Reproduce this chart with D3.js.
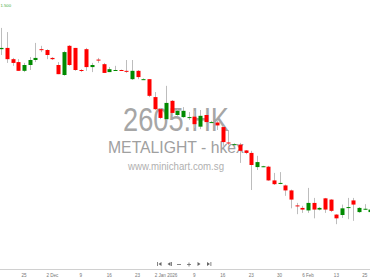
<!DOCTYPE html>
<html>
<head>
<meta charset="utf-8">
<script src="https://cdn.jsdelivr.net/npm/d3@7"></script>
<style>
  body { margin: 0; background: #fff; }
  svg { display: block; font-family: "Liberation Sans", Arial, sans-serif; }
</style>
</head>
<body>
<div id="chart"></div>
<script>
// trading days shown (HK), 19 Nov 2025 .. 26 Feb 2026
const dates = [
  '2025-11-19','2025-11-20','2025-11-21','2025-11-24','2025-11-25','2025-11-26','2025-11-27','2025-11-28',
  '2025-12-01','2025-12-02','2025-12-03','2025-12-04','2025-12-05','2025-12-08','2025-12-09','2025-12-10',
  '2025-12-11','2025-12-12','2025-12-15','2025-12-16','2025-12-17','2025-12-18','2025-12-19','2025-12-22',
  '2025-12-23','2025-12-24','2025-12-29','2025-12-30','2025-12-31','2026-01-02','2026-01-05','2026-01-06',
  '2026-01-07','2026-01-08','2026-01-09','2026-01-12','2026-01-13','2026-01-14','2026-01-15','2026-01-16',
  '2026-01-19','2026-01-20','2026-01-21','2026-01-22','2026-01-23','2026-01-26','2026-01-27','2026-01-28',
  '2026-01-29','2026-01-30','2026-02-02','2026-02-03','2026-02-04','2026-02-05','2026-02-06','2026-02-09',
  '2026-02-10','2026-02-11','2026-02-12','2026-02-13','2026-02-16','2026-02-20','2026-02-23','2026-02-24',
  '2026-02-25','2026-02-26'
];

const open = [
  1.394, 1.397, 1.370, 1.363, 1.342, 1.356, 1.368, 1.394, 1.392, 1.373, 1.356, 1.332, 1.402, 1.397, 1.344, 1.394,
  1.351, 1.369, 1.358, 1.339, 1.343, 1.344, 1.342, 1.322, 1.342, 1.321, 1.322, 1.279, 1.250, 1.226, 1.270, 1.236,
  1.231, 1.230, 1.232, 1.208, 1.236, 1.218, 1.218, 1.207, 1.170, 1.165, 1.165, 1.151, 1.145, 1.111, 1.111, 1.112,
  1.079, 1.072, 1.067, 1.055, 1.019, 1.013, 1.007, 1.025, 1.009, 1.036, 1.033, 0.997, 0.996, 1.014, 1.031, 1.003,
  1.010, 1.003
];
const high = [
  1.445, 1.435, 1.373, 1.370, 1.361, 1.375, 1.409, 1.402, 1.394, 1.375, 1.363, 1.390, 1.404, 1.397, 1.346, 1.397,
  1.361, 1.373, 1.361, 1.351, 1.354, 1.345, 1.368, 1.368, 1.344, 1.324, 1.322, 1.291, 1.253, 1.306, 1.272, 1.250,
  1.255, 1.243, 1.246, 1.248, 1.248, 1.222, 1.222, 1.210, 1.200, 1.168, 1.169, 1.152, 1.150, 1.138, 1.114, 1.114,
  1.097, 1.099, 1.069, 1.057, 1.025, 1.018, 1.061, 1.037, 1.015, 1.037, 1.034, 0.998, 1.021, 1.037, 1.037, 1.015,
  1.022, 1.010
];
const low = [
  1.380, 1.361, 1.354, 1.342, 1.339, 1.344, 1.363, 1.387, 1.370, 1.368, 1.334, 1.330, 1.354, 1.342, 1.339, 1.342,
  1.339, 1.361, 1.337, 1.339, 1.342, 1.342, 1.337, 1.320, 1.322, 1.321, 1.279, 1.248, 1.226, 1.224, 1.236, 1.234,
  1.229, 1.224, 1.205, 1.202, 1.207, 1.217, 1.200, 1.162, 1.164, 1.165, 1.121, 1.142, 1.056, 1.104, 1.111, 1.078,
  1.068, 1.070, 1.042, 1.012, 0.998, 1.001, 1.001, 0.988, 1.007, 1.001, 1.003, 0.974, 0.989, 0.986, 0.982, 1.001,
  1.008, 1.001
];
const close = [
  1.397, 1.370, 1.361, 1.342, 1.356, 1.368, 1.373, 1.392, 1.380, 1.370, 1.334, 1.387, 1.356, 1.344, 1.342, 1.351,
  1.356, 1.367, 1.337, 1.346, 1.344, 1.343, 1.340, 1.342, 1.327, 1.322, 1.282, 1.250, 1.229, 1.265, 1.241, 1.246,
  1.246, 1.231, 1.214, 1.234, 1.219, 1.219, 1.211, 1.171, 1.168, 1.166, 1.150, 1.145, 1.116, 1.123, 1.113, 1.079,
  1.070, 1.073, 1.055, 1.033, 1.017, 1.009, 1.025, 1.009, 1.013, 1.009, 1.006, 0.988, 1.012, 1.015, 1.021, 1.013,
  1.011, 1.009
];

// x-axis labels, one every 5 trading days
const tickDates = ['2025-11-25','2025-12-02','2025-12-09','2025-12-16','2025-12-23','2026-01-02','2026-01-09',
  '2026-01-16','2026-01-23','2026-01-30','2026-02-06','2026-02-13','2026-02-25'];
const tickLabels = ['25','2 Dec','9','16','23','2 Jan 2026','9','16','23','30','6 Feb','13','25'];

const topPriceLabel = '1.500';

const width = 370, height = 278;
const step = 5.68;
const bodyW = 4;

const svg = d3.select('#chart').append('svg')
  .attr('width', width)
  .attr('height', height);

const x = d3.scalePoint()
  .domain(dates)
  .range([24 - 4 * step, 24 + 61 * step]);

const y = d3.scaleLinear()
  .domain([0.90, 1.50])
  .range([255, 5]);

// watermark
const wm = svg.append('g').attr('text-anchor', 'middle');
wm.append('text')
  .attr('x', 176).attr('y', 131)
  .attr('font-size', 34)
  .attr('fill', '#a6a6a6')
  .attr('textLength', 106).attr('lengthAdjust', 'spacingAndGlyphs')
  .text('2605.HK');
wm.append('text')
  .attr('x', 176).attr('y', 153)
  .attr('font-size', 16.5)
  .attr('fill', '#a0a0a0')
  .attr('textLength', 136).attr('lengthAdjust', 'spacingAndGlyphs')
  .text('METALIGHT - hkex');
wm.append('text')
  .attr('x', 176).attr('y', 170)
  .attr('font-size', 11.5)
  .attr('fill', '#b0b0b0')
  .attr('textLength', 96).attr('lengthAdjust', 'spacingAndGlyphs')
  .text('www.minichart.com.sg');

// price label, top left
svg.append('text')
  .attr('x', 0.5).attr('y', 7)
  .attr('font-size', 4.2)
  .attr('fill', '#44aa44')
  .text(topPriceLabel);

// candles
const candles = svg.append('g')
  .selectAll('g')
  .data(dates.map((d, i) => ({ d, o: open[i], h: high[i], l: low[i], c: close[i] })))
  .join('g');

candles.append('line')
  .attr('x1', d => Math.round(x(d.d)) + 0.5)
  .attr('x2', d => Math.round(x(d.d)) + 0.5)
  .attr('y1', d => y(d.h))
  .attr('y2', d => y(d.l))
  .attr('stroke', '#bdbdbd')
  .attr('stroke-width', 1);

candles.append('rect')
  .attr('x', d => Math.round(x(d.d)) + 0.5 - bodyW / 2)
  .attr('width', bodyW)
  .attr('y', d => y(Math.max(d.o, d.c)))
  .attr('height', d => Math.max(1, Math.abs(y(d.o) - y(d.c))))
  .attr('fill', d => d.c >= d.o ? '#008a00' : '#ff0000');

// x axis
const axisY = 269.5;
svg.append('line')
  .attr('x1', 0).attr('x2', width)
  .attr('y1', axisY).attr('y2', axisY)
  .attr('stroke', '#d0d0d0');

svg.append('g')
  .selectAll('text')
  .data(tickDates)
  .join('text')
  .attr('x', d => x(d))
  .attr('y', 276.5)
  .attr('text-anchor', 'middle')
  .attr('font-size', 4.6)
  .attr('fill', '#777')
  .text((d, i) => tickLabels[i]);

// navigation buttons
const nav = svg.append('g').attr('fill', '#666').attr('stroke', '#666');
const ny = 264;
// first
nav.append('rect').attr('x', 157).attr('y', ny - 2).attr('width', 0.8).attr('height', 4).attr('stroke', 'none');
nav.append('path').attr('d', `M158.5,${ny} L161.5,${ny - 2} L161.5,${ny + 2} Z`).attr('stroke', 'none');
// prev
nav.append('path').attr('d', `M167.5,${ny} L170.5,${ny - 2} L170.5,${ny + 2} Z`).attr('stroke', 'none');
nav.append('rect').attr('x', 171).attr('y', ny - 2).attr('width', 0.8).attr('height', 4).attr('stroke', 'none');
// zoom out
nav.append('line').attr('x1', 177).attr('x2', 181).attr('y1', ny + 0.5).attr('y2', ny + 0.5).attr('stroke-width', 0.8);
// zoom in
nav.append('line').attr('x1', 187).attr('x2', 191).attr('y1', ny + 0.5).attr('y2', ny + 0.5).attr('stroke-width', 0.8);
nav.append('line').attr('x1', 189).attr('x2', 189).attr('y1', ny - 1.5).attr('y2', ny + 2.5).attr('stroke-width', 0.8);
// next
nav.append('path').attr('d', `M200.5,${ny} L197.5,${ny - 2} L197.5,${ny + 2} Z`).attr('stroke', 'none');
// last
nav.append('path').attr('d', `M210,${ny} L207,${ny - 2} L207,${ny + 2} Z`).attr('stroke', 'none');
nav.append('rect').attr('x', 210.5).attr('y', ny - 2).attr('width', 0.8).attr('height', 4).attr('stroke', 'none');
</script>
</body>
</html>
